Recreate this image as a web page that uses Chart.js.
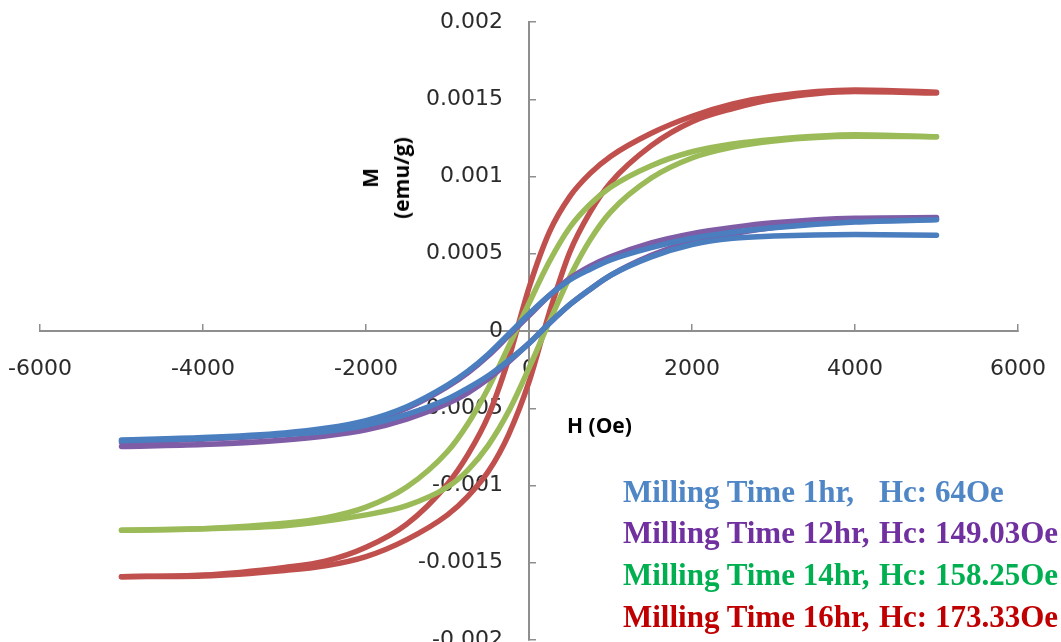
<!DOCTYPE html>
<html><head><meta charset="utf-8">
<script src="https://cdn.jsdelivr.net/npm/chart.js@4.4.0/dist/chart.umd.min.js"></script>
<style>
html,body{margin:0;padding:0;background:#fff;}
#wrap{position:relative;width:1061px;height:642px;overflow:hidden;background:#fff;}
#c{position:absolute;left:0;top:0;}
.t{position:absolute;white-space:nowrap;}
.ttl{font-family:"Open Sans",sans-serif;font-weight:bold;font-size:21px;color:#000;}
.leg{font-family:"Liberation Serif","Times New Roman",serif;font-weight:bold;font-size:31px;line-height:normal;}
</style></head><body>
<div id="wrap">
<canvas id="c" width="1061" height="642"></canvas>
<div class="t ttl" id="ytitle" style="left:386px;top:178px;transform:translate(-50%,-50%) rotate(-90deg);text-align:center;line-height:31px;">M<br>(emu/g)</div>
<div class="t ttl" style="left:567px;top:411px;">H (Oe)</div>
<div class="t leg" style="left:623px;top:474px;color:#4F86C6;">Milling Time 1hr,</div>
<div class="t leg" style="left:879px;top:474px;color:#4F86C6;">Hc: 64Oe</div>
<div class="t leg" style="left:623px;top:515px;color:#7030A0;">Milling Time 12hr,</div>
<div class="t leg" style="left:879px;top:515px;color:#7030A0;">Hc: 149.03Oe</div>
<div class="t leg" style="left:623px;top:557px;color:#00B050;">Milling Time 14hr,</div>
<div class="t leg" style="left:879px;top:557px;color:#00B050;">Hc: 158.25Oe</div>
<div class="t leg" style="left:623px;top:599px;color:#C00000;">Milling Time 16hr,</div>
<div class="t leg" style="left:879px;top:599px;color:#C00000;">Hc: 173.33Oe</div>
</div>
<script>
// Applied field H (Oe)
const fieldH = [-5000,-4000,-3000,-2500,-2000,-1500,-1000,-750,-500,-250,0,250,500,750,1000,1500,2000,2500,3000,4000,5000];

// Milling time 1 hr (blue): descending and ascending branches
const m1hrDesc = [-0.000705,-0.00069,-0.00066,-0.00063,-0.00058,-0.00049,-0.00035,-0.00026,-0.00015,-0.00002,0.00011,0.00023,0.00033,0.0004,0.00046,0.00054,0.0006,0.00064,0.000669,0.000705,0.00072];
const m1hrAsc  = [-0.00071,-0.000695,-0.00067,-0.00065,-0.00061,-0.00054,-0.00044,-0.00037,-0.00029,-0.00019,-0.00008,0.00005,0.00017,0.00027,0.00036,0.00048,0.00056,0.0006,0.000615,0.000625,0.00062];
// Milling time 12 hr (purple)
const m12hrDesc = [-0.00072,-0.0007,-0.00067,-0.00064,-0.00059,-0.0005,-0.00036,-0.00027,-0.00016,-0.00003,0.0001,0.00023,0.00034,0.00042,0.00048,0.00057,0.00063,0.00067,0.0007,0.00073,0.000734];
const m12hrAsc  = [-0.000747,-0.000735,-0.000705,-0.00068,-0.00064,-0.00057,-0.00047,-0.0004,-0.00031,-0.0002,-0.00008,0.00005,0.00017,0.00027,0.00036,0.00049,0.00058,0.00063,0.00067,0.00071,0.000725];
// Milling time 14 hr (green)
const m14hrDesc = [-0.00129,-0.00128,-0.001245,-0.00121,-0.00114,-0.00101,-0.00078,-0.0006,-0.00037,-0.0001,0.00018,0.00045,0.00067,0.00082,0.00093,0.00107,0.00116,0.00121,0.00124,0.00127,0.001257];
const m14hrAsc  = [-0.00129,-0.00128,-0.00126,-0.00123,-0.00119,-0.00113,-0.00101,-0.0009,-0.00074,-0.00052,-0.00024,0.00006,0.00035,0.00059,0.00077,0.00099,0.00112,0.00119,0.00123,0.00126,0.001257];
// Milling time 16 hr (red)
const m16hrDesc = [-0.00159,-0.00158,-0.00153,-0.00149,-0.0014,-0.00125,-0.00099,-0.0008,-0.00055,-0.00018,0.00028,0.00064,0.00087,0.00102,0.00113,0.00128,0.00139,0.00147,0.00152,0.00156,0.001545];
const m16hrAsc  = [-0.00159,-0.001585,-0.00155,-0.00152,-0.00146,-0.00135,-0.00119,-0.00107,-0.00091,-0.00067,-0.00033,0.00012,0.00051,0.00077,0.00096,0.0012,0.001355,0.00144,0.0015,0.00155,0.00154];

// Axis ticks
const xTicks = [-6000,-4000,-2000,0,2000,4000,6000];
const xTickLabels = ["-6000","-4000","-2000","0","2000","4000","6000"];
const yTicks = [-0.002,-0.0015,-0.001,-0.0005,0,0.0005,0.001,0.0015,0.002];
const yTickLabels = ["-0.002","-0.0015","-0.001","-0.0005","0","0.0005","0.001","0.0015","0.002"];

const pts = arr => fieldH.map((h,i)=>({x:h,y:arr[i]}));
const line = (data,color) => ({data:pts(data),borderColor:color,backgroundColor:color,borderWidth:5.5,showLine:true,pointRadius:0,fill:false,cubicInterpolationMode:'monotone',borderCapStyle:'round',borderJoinStyle:'round'});

const BLUE='#4A7EBF', PURPLE='#7F5DA6', GREEN='#9BBB59', RED='#C0504D';
const AXIS='#8e8e8e';
const tickFont = {family:'"DejaVu Sans", sans-serif', size:22};
const noPad = s => { s.paddingLeft=0; s.paddingRight=0; s.paddingTop=0; s.paddingBottom=0; };

new Chart(document.getElementById('c'), {
  type:'scatter',
  data:{datasets:[
    line(m1hrDesc,BLUE), line(m1hrAsc,BLUE),
    line(m12hrDesc,PURPLE), line(m12hrAsc,PURPLE),
    line(m14hrDesc,GREEN), line(m14hrAsc,GREEN),
    line(m16hrDesc,RED), line(m16hrAsc,RED)
  ]},
  options:{
    responsive:false, animation:false, devicePixelRatio:1,
    layout:{padding:{left:40,right:43,top:22,bottom:2}},
    plugins:{legend:{display:false},tooltip:{enabled:false},title:{display:false}},
    scales:{
      x:{type:'linear',min:-6000,max:6000,position:{y:0},
         afterBuildTicks:s=>{s.ticks=xTicks.map(v=>({value:v}));},
         afterFit:s=>{s.height=0;noPad(s);},
         ticks:{callback:(v,i)=>xTickLabels[i],font:tickFont,color:'#2b2b2b',padding:33,maxRotation:0,minRotation:0,autoSkip:false},
         grid:{drawOnChartArea:false,drawTicks:true,tickLength:-8,color:AXIS,lineWidth:1.5},
         border:{display:true,color:AXIS,width:2}},
      y:{type:'linear',min:-0.002,max:0.002,position:{x:0},
         afterBuildTicks:s=>{s.ticks=yTicks.map(v=>({value:v}));},
         afterFit:s=>{s.width=0;noPad(s);},
         ticks:{display:false,autoSkip:false},
         grid:{drawOnChartArea:false,drawTicks:true,tickLength:-8,color:AXIS,lineWidth:1.5},
         border:{display:true,color:AXIS,width:2}},
      yl:{type:'linear',axis:'y',min:-0.002,max:0.002,position:{x:-320},
         afterBuildTicks:s=>{s.ticks=yTicks.map(v=>({value:v}));},
         afterFit:s=>{s.width=0;noPad(s);},
         ticks:{callback:(v,i)=>yTickLabels[i],font:tickFont,color:'#2b2b2b',autoSkip:false},
         grid:{display:false,drawTicks:false},
         border:{display:false}}
    }
  }
});
</script>
</body></html>
